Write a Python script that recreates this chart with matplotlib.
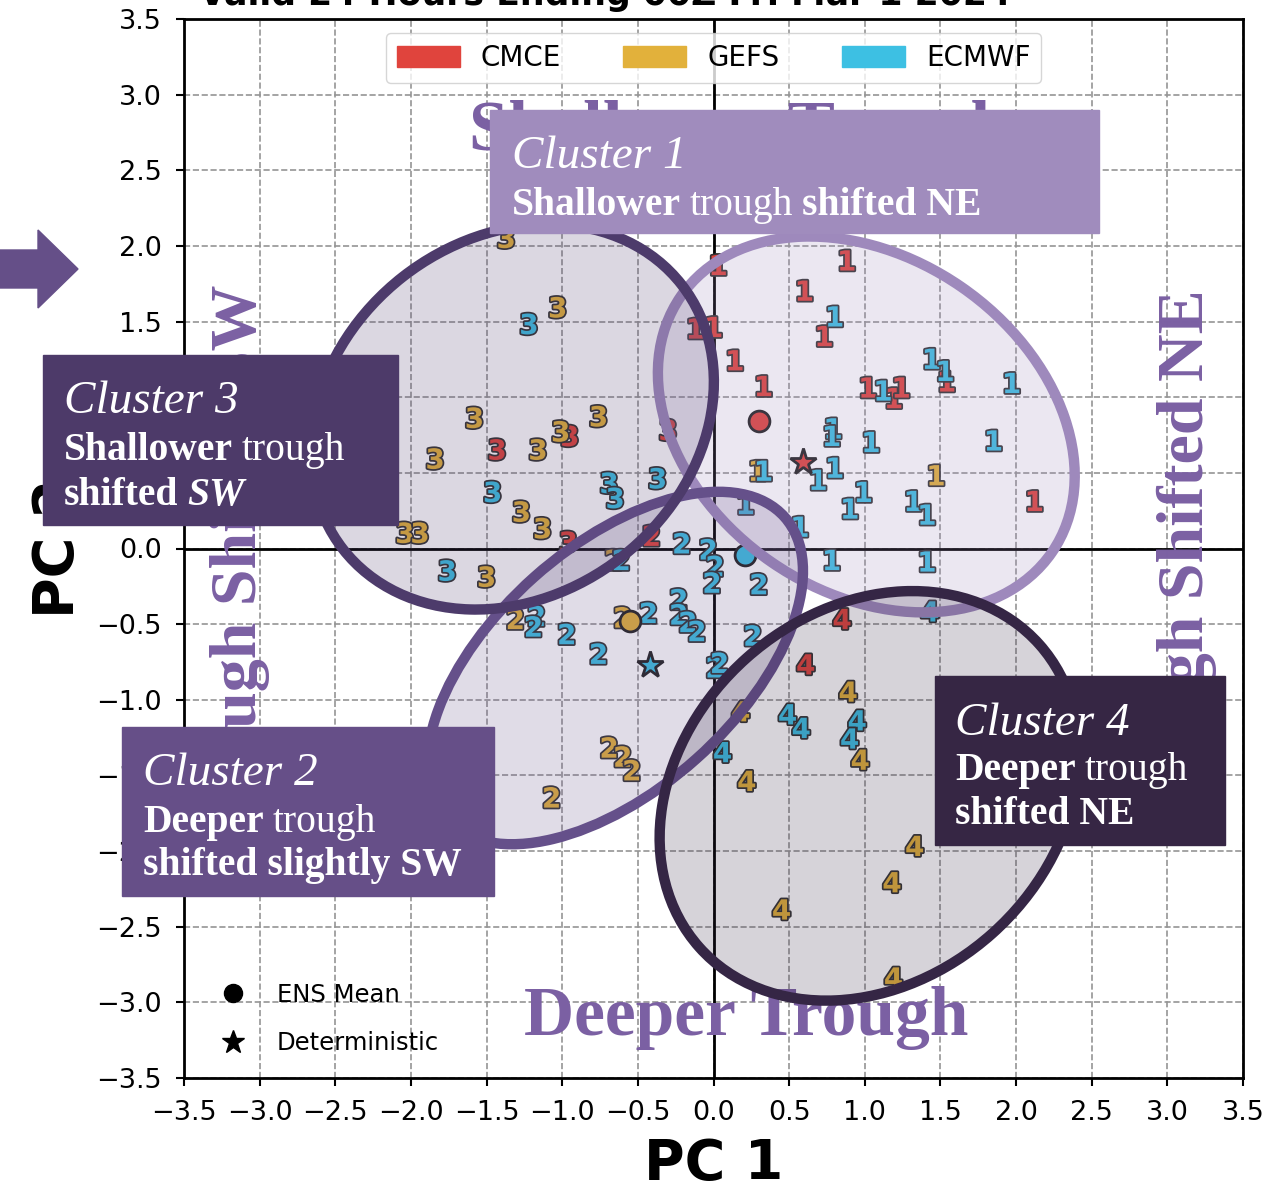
import matplotlib
matplotlib.use("Agg")
import matplotlib.pyplot as plt
import matplotlib.patheffects as pe
from matplotlib.patches import Ellipse, Rectangle, Polygon, Patch
from matplotlib.lines import Line2D
from matplotlib.colors import to_rgba

W, H = 1281, 1188

# ensemble member PC scores, by cluster and model
c1_cmce_x = [0.03, 0.88, 0.60, 0.00, -0.12, 0.73, 0.14, 0.33, 1.02, 1.19, 1.24, 1.54, 2.12]
c1_cmce_y = [1.88, 1.91, 1.71, 1.47, 1.46, 1.41, 1.25, 1.08, 1.07, 1.00, 1.07, 1.11, 0.32]
c1_gefs_x = [1.47, 0.29]
c1_gefs_y = [0.49, 0.52]
c1_ecmwf_x = [0.80, 1.44, 1.53, 1.12, 1.97, 0.79, 0.78, 1.04, 1.85, 0.33,
              0.80, 0.69, 0.99, 0.90, 1.32, 1.41, 0.57, 0.21, 0.78, 1.41]
c1_ecmwf_y = [1.54, 1.26, 1.18, 1.05, 1.10, 0.80, 0.75, 0.71, 0.72, 0.52,
              0.54, 0.46, 0.38, 0.27, 0.32, 0.23, 0.15, 0.30, -0.07, -0.08]

c2_cmce_x = [-0.41]
c2_cmce_y = [0.09]
c2_gefs_x = [-0.66, -1.31, -0.60, -0.69, -0.60, -0.54, -1.07]
c2_gefs_y = [-0.07, -0.46, -0.45, -1.31, -1.37, -1.46, -1.64]
c2_ecmwf_x = [-0.21, -0.035, 0.01, -0.01, 0.30, -0.23, -0.23, -0.17, -0.11,
              -0.43, -1.17, -1.19, -0.97, -0.76, 0.26, 0.01, 0.04, -0.61]
c2_ecmwf_y = [0.04, 0.0, -0.11, -0.22, -0.23, -0.33, -0.43, -0.48, -0.54,
              -0.42, -0.44, -0.51, -0.56, -0.69, -0.57, -0.78, -0.75, -0.07]

c3_cmce_x = [-1.43, -0.95, -0.30, -0.96]
c3_cmce_y = [0.66, 0.75, 0.79, 0.05]
c3_gefs_x = [-1.58, -1.84, -1.16, -1.01, -0.76, -1.27, -1.13, -2.04, -1.94, -1.50, -1.37, -1.03]
c3_gefs_y = [0.87, 0.60, 0.66, 0.78, 0.88, 0.25, 0.14, 0.11, 0.11, -0.18, 2.06, 1.60]
c3_ecmwf_x = [-1.46, -0.69, -0.65, -0.37, -1.76, -1.22]
c3_ecmwf_y = [0.38, 0.44, 0.34, 0.47, -0.14, 1.49]

c4_cmce_x = [0.85, 0.61]
c4_cmce_y = [-0.46, -0.76]
c4_gefs_x = [0.89, 0.18, 0.97, 0.22, 1.33, 1.18, 0.45, 1.19]
c4_gefs_y = [-0.94, -1.07, -1.39, -1.53, -1.96, -2.20, -2.38, -2.83]
c4_ecmwf_x = [1.43, 0.49, 0.58, 0.95, 0.90, 0.06]
c4_ecmwf_y = [-0.41, -1.09, -1.18, -1.13, -1.25, -1.34]

# ensemble means and deterministic runs
mean_models = ["CMCE", "ECMWF", "GEFS"]
mean_x = [0.30, 0.21, -0.55]
mean_y = [0.84, -0.04, -0.48]
det_models = ["CMCE", "ECMWF"]
det_x = [0.59, -0.42]
det_y = [0.57, -0.77]

# cluster ellipses: centre, width, height, angle
ell_cx = [1.01, -0.65, -1.33, 1.03]
ell_cy = [0.82, -0.79, 0.87, -1.635]
ell_w = [2.98, 3.0, 2.84, 3.01]
ell_h = [2.21, 1.61, 2.35, 2.44]
ell_ang = [-34.6, 41.7, 38.0, 41.7]

models = ["CMCE", "GEFS", "ECMWF"]
model_colors = {"CMCE": "#e0443d", "GEFS": "#e2b13b", "ECMWF": "#3dc0e3"}
cluster_colors = ["#9e89bc", "#65508a", "#4d3b6b", "#352645"]
big_text_color = "#7b60a3"

fig = plt.figure(figsize=(W / 100, H / 100), dpi=100)
ax = fig.add_axes([184 / W, 1 - 1078 / H, 1059 / W, 1059 / H])
ax.set_xlim(-3.5, 3.5)
ax.set_ylim(-3.5, 3.5)
ax.set_xticks([-3.5 + 0.5 * i for i in range(15)])
ax.set_yticks([-3.5 + 0.5 * i for i in range(15)])
ax.tick_params(labelsize=19.5, length=6, width=1.5, pad=10)
for s in ax.spines.values():
    s.set_linewidth(2)
ax.grid(True, linestyle="--", color="#959595", linewidth=1.2)
ax.set_axisbelow(True)
ax.axhline(0, color="black", lw=2, zorder=1)
ax.axvline(0, color="black", lw=2, zorder=1)
ax.set_xlabel("PC 1", fontsize=40, fontweight="bold", labelpad=8)
ax.set_ylabel("PC 2", fontsize=40, fontweight="bold", labelpad=8)

# partly cut-off title
fig.text(605 / W, 1 - 5 / H, "Valid 24 Hours Ending 00Z Fri Mar 1 2024",
         ha="center", va="baseline", fontsize=25, fontweight="bold")

# big background words
serif = "Liberation Serif"
ax.text(0.17, 2.634, "Shallower Trough", ha="center", va="baseline", fontsize=51,
        fontweight="bold", family=serif, color=big_text_color, zorder=1.5)
ax.text(0.215, -3.215, "Deeper Trough", ha="center", va="baseline", fontsize=50,
        fontweight="bold", family=serif, color=big_text_color, zorder=1.5)
ax.text(-3.13, -0.05, "Trough Shifted SW", ha="center", va="center", rotation=90,
        fontsize=47.5, fontweight="bold", family=serif, color=big_text_color, zorder=1.5)
ax.text(3.13, -0.05, "Trough Shifted NE", ha="center", va="center", rotation=90,
        fontsize=47.5, fontweight="bold", family=serif, color=big_text_color, zorder=1.5)

# member numbers
outline = [pe.withStroke(linewidth=2.5, foreground="#333333")]
clusters = [
    ("1", {"CMCE": (c1_cmce_x, c1_cmce_y), "GEFS": (c1_gefs_x, c1_gefs_y), "ECMWF": (c1_ecmwf_x, c1_ecmwf_y)}),
    ("2", {"CMCE": (c2_cmce_x, c2_cmce_y), "GEFS": (c2_gefs_x, c2_gefs_y), "ECMWF": (c2_ecmwf_x, c2_ecmwf_y)}),
    ("3", {"CMCE": (c3_cmce_x, c3_cmce_y), "GEFS": (c3_gefs_x, c3_gefs_y), "ECMWF": (c3_ecmwf_x, c3_ecmwf_y)}),
    ("4", {"CMCE": (c4_cmce_x, c4_cmce_y), "GEFS": (c4_gefs_x, c4_gefs_y), "ECMWF": (c4_ecmwf_x, c4_ecmwf_y)}),
]
for label, sets in clusters:
    for m in models:
        xs, ys = sets[m]
        for x, y in zip(xs, ys):
            ax.text(x, y, label, ha="center", va="center_baseline", fontsize=20,
                    fontweight="bold", color=model_colors[m], path_effects=outline, zorder=3)

for m, x, y in zip(mean_models, mean_x, mean_y):
    ax.plot(x, y, "o", ms=15, mfc=model_colors[m], mec="#222222", mew=2, zorder=3.5)
for m, x, y in zip(det_models, det_x, det_y):
    ax.plot(x, y, "*", ms=20, mfc=model_colors[m], mec="#222222", mew=2, zorder=3.5)

# cluster ellipses
for i in range(4):
    c = cluster_colors[i]
    ax.add_patch(Ellipse((ell_cx[i], ell_cy[i]), ell_w[i], ell_h[i], angle=ell_ang[i],
                         facecolor=to_rgba(c, 0.2), edgecolor=c, lw=7.5, zorder=4))

# legends
leg1 = ax.legend(handles=[Patch(color=model_colors[m], label=m) for m in models],
                 loc="upper center", ncol=3, fontsize=20, handlelength=2.27,
                 handleheight=0.8, handletextpad=0.75, columnspacing=2.25,
                 edgecolor="#cccccc")
leg1.set_zorder(5)
ax.add_artist(leg1)
leg2 = ax.legend(handles=[Line2D([], [], marker="o", ls="", color="black", ms=13, label="ENS Mean"),
                          Line2D([], [], marker="*", ls="", color="black", ms=17, label="Deterministic")],
                 loc="lower left", bbox_to_anchor=(0.003, 0.001), frameon=False,
                 fontsize=17.5, labelspacing=1.0)

# cluster description boxes (pixel layout of the annotation panels)
def fx(px):
    return px / W

def fy(py):
    return 1 - py / H

boxes = [
    (490, 110, 1099, 233, "#a08cbd"),
    (122, 727, 494, 896, "#664f88"),
    (43, 355, 398, 525, "#4d3a69"),
    (935, 676, 1225, 845, "#362644"),
]
for x0, y0, x1, y1, col in boxes:
    ax.add_patch(Rectangle((fx(x0), fy(y1)), fx(x1) - fx(x0), fy(y0) - fy(y1),
                           transform=fig.transFigure, color=col, clip_on=False, zorder=10))


def rich_line(x_px, base_px, parts, size):
    prev = None
    for s, weight, style in parts:
        kw = dict(fontsize=size, fontweight=weight, fontstyle=style, family=serif,
                  color="white", zorder=11)
        if prev is None:
            prev = ax.text(fx(x_px), fy(base_px), s, transform=fig.transFigure,
                           ha="left", va="baseline", **kw)
        else:
            prev = ax.annotate(s, xy=(1, 0), xycoords=prev, xytext=(6.5, 0),
                               textcoords="offset points", ha="left", va="bottom", **kw)


box_text = [
    (512, [(168, [("Cluster 1", "normal", "italic")], 34),
           (215, [("Shallower", "bold", "normal"), ("trough", "normal", "normal"),
                  ("shifted NE", "bold", "normal")], 28.5)]),
    (143, [(785, [("Cluster 2", "normal", "italic")], 34),
           (832, [("Deeper", "bold", "normal"), ("trough", "normal", "normal")], 28.5),
           (875, [("shifted slightly SW", "bold", "normal")], 28.5)]),
    (64, [(413, [("Cluster 3", "normal", "italic")], 34),
          (460, [("Shallower", "bold", "normal"), ("trough", "normal", "normal")], 28.5),
          (505, [("shifted", "bold", "normal"), ("SW", "bold", "italic")], 28.5)]),
    (955, [(735, [("Cluster 4", "normal", "italic")], 34),
           (780, [("Deeper", "bold", "normal"), ("trough", "normal", "normal")], 28.5),
           (824, [("shifted NE", "bold", "normal")], 28.5)]),
]
for x_px, lines in box_text:
    for base, parts, size in lines:
        rich_line(x_px, base, parts, size)

# arrow on the left edge
arrow_px = [(0, 250), (38, 250), (38, 230), (78, 269), (38, 308), (38, 288), (0, 288)]
fig.add_artist(Polygon([(fx(a), fy(b)) for a, b in arrow_px], closed=True,
                       transform=fig.transFigure, color="#654f88"))

fig.savefig("out.png", dpi=100)
